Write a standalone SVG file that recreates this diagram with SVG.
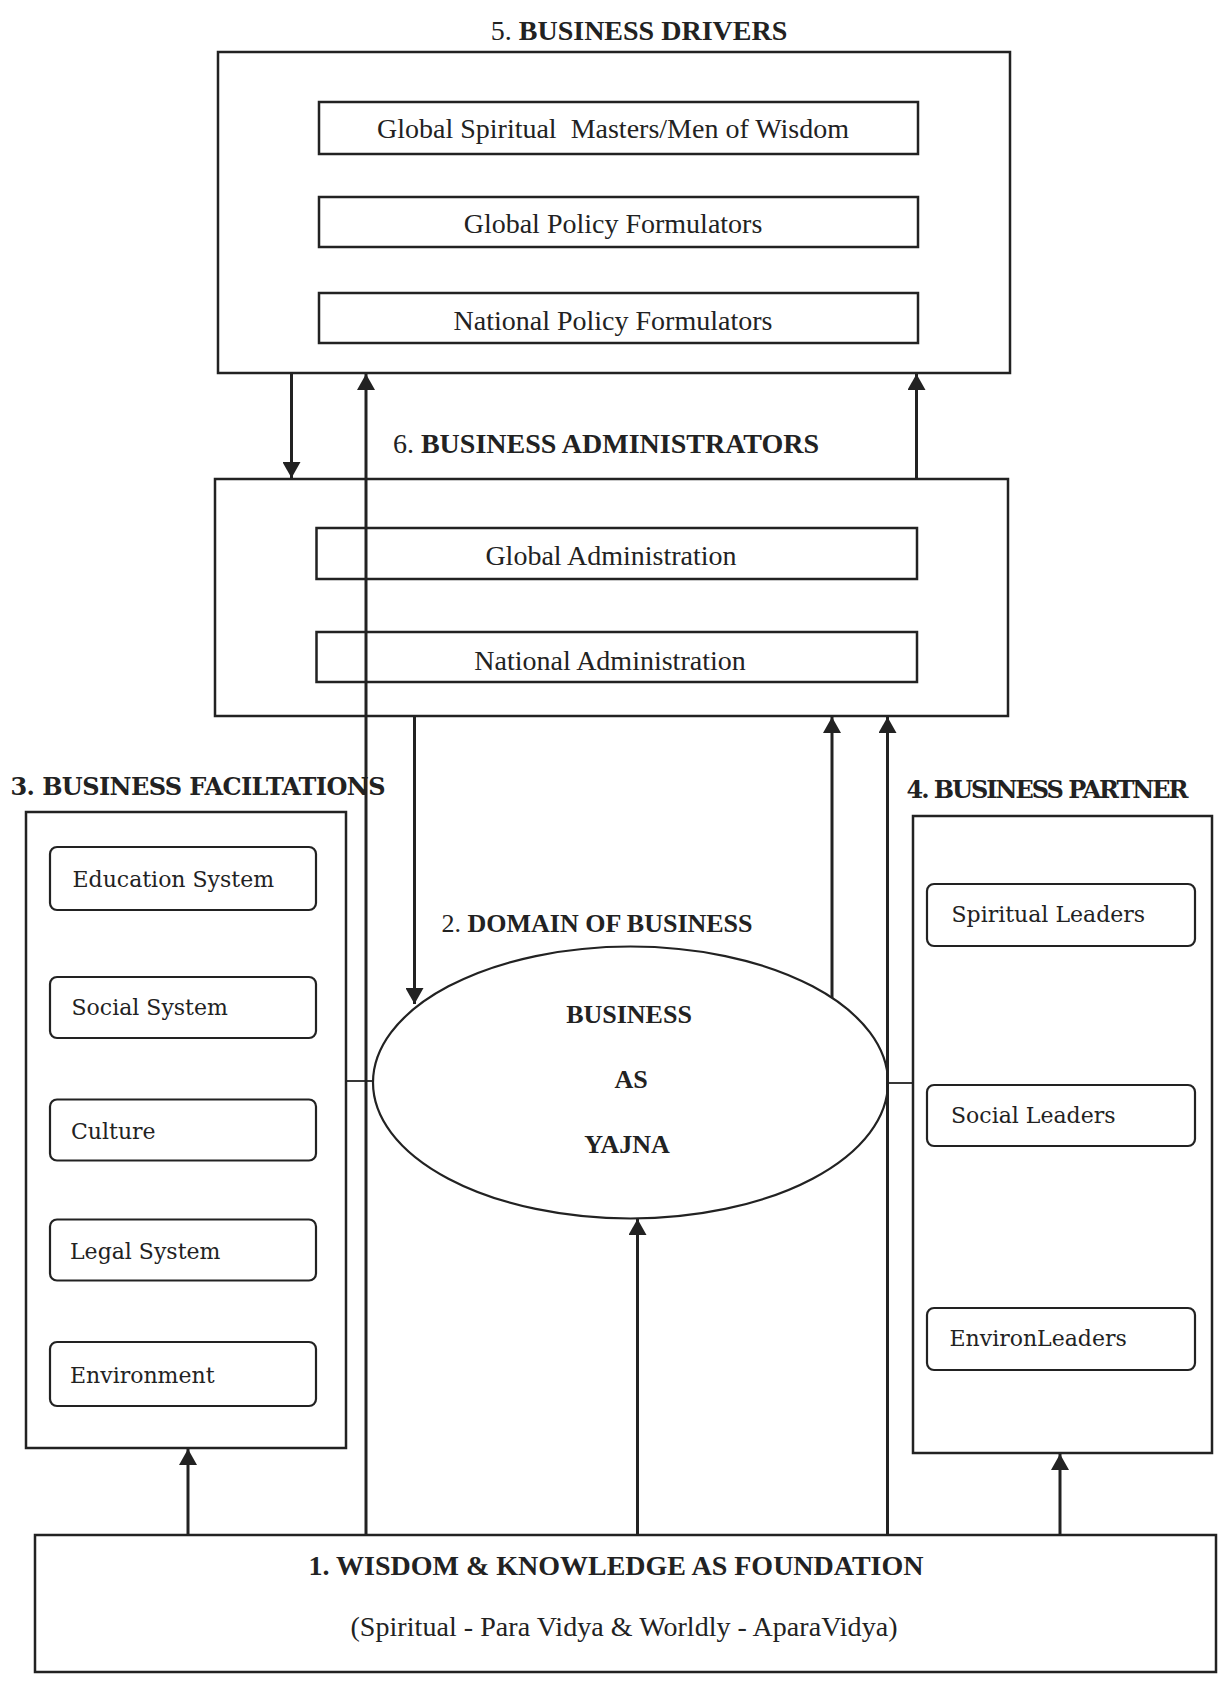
<svg xmlns="http://www.w3.org/2000/svg" width="1218" height="1681" viewBox="0 0 1218 1681">
  <style>
    .box { fill: #fff; stroke: #222; stroke-width: 2.5; }
    .rbox { fill: #fff; stroke: #222; stroke-width: 2.2; }
    .ell { fill: #fff; stroke: #222; stroke-width: 2.2; }
    .times { font-family: "Liberation Serif", "Times New Roman", serif; fill: #222; }
    .title { font-family: "Liberation Serif", "Times New Roman", serif; font-weight: bold; fill: #222; }
    .num { font-weight: normal; }
    .wide { font-family: "DejaVu Serif", "Liberation Serif", serif; fill: #222; }
    .wideb { font-family: "DejaVu Serif", "Liberation Serif", serif; font-weight: bold; fill: #222; }
    .arrow { stroke: #222; stroke-width: 3; fill: none; }
    .link { stroke: #222; stroke-width: 1.8; fill: none; }
  </style>
  <defs>
    <marker id="head" viewBox="0 0 16 18" refX="16" refY="9" markerWidth="16" markerHeight="18" markerUnits="userSpaceOnUse" orient="auto">
      <path d="M0,0 L16,9 L0,18 z" fill="#222"/>
    </marker>
  </defs>

  <rect width="1218" height="1681" fill="#fff"/>

  <!-- 5. Business drivers -->
  <g id="drivers">
    <text class="title" x="639" y="40" font-size="28" text-anchor="middle"><tspan class="num">5.</tspan> BUSINESS DRIVERS</text>
    <rect class="box" x="218" y="52" width="792" height="321"/>
    <rect class="box" x="319" y="102" width="599" height="52"/>
    <text class="times" x="613" y="138" font-size="28" text-anchor="middle" xml:space="preserve">Global Spiritual  Masters/Men of Wisdom</text>
    <rect class="box" x="319" y="197" width="599" height="50"/>
    <text class="times" x="613" y="233" font-size="28" text-anchor="middle">Global Policy Formulators</text>
    <rect class="box" x="319" y="293" width="599" height="50"/>
    <text class="times" x="613" y="330" font-size="28" text-anchor="middle">National Policy Formulators</text>
  </g>

  <!-- 6. Business administrators -->
  <g id="administrators">
    <text class="title" x="606" y="453" font-size="28" text-anchor="middle"><tspan class="num">6.</tspan> BUSINESS ADMINISTRATORS</text>
    <rect class="box" x="215" y="479" width="793" height="237"/>
    <rect class="box" x="316.5" y="528" width="600.5" height="51"/>
    <text class="times" x="611" y="565" font-size="28" text-anchor="middle">Global Administration</text>
    <rect class="box" x="316.5" y="632" width="600.5" height="50"/>
    <text class="times" x="610" y="670" font-size="28" text-anchor="middle">National Administration</text>
  </g>

  <!-- 3. Business facilitations -->
  <g id="facilitations">
    <text class="wideb" x="10.5" y="795" font-size="24" textLength="375">3. BUSINESS FACILTATIONS</text>
    <rect class="box" x="26" y="812" width="320" height="636"/>
    <rect class="rbox" x="50" y="847" width="266" height="63" rx="7"/>
    <text class="wide" x="72.5" y="887" font-size="22">Education System</text>
    <rect class="rbox" x="50" y="977" width="266" height="61" rx="7"/>
    <text class="wide" x="71.5" y="1015" font-size="22">Social System</text>
    <rect class="rbox" x="50" y="1099.5" width="266" height="61" rx="7"/>
    <text class="wide" x="71" y="1139" font-size="22">Culture</text>
    <rect class="rbox" x="50" y="1219.5" width="266" height="61" rx="7"/>
    <text class="wide" x="70" y="1259" font-size="22">Legal System</text>
    <rect class="rbox" x="50" y="1342" width="266" height="64" rx="7"/>
    <text class="wide" x="70" y="1383" font-size="22">Environment</text>
  </g>

  <!-- 4. Business partner -->
  <g id="partner">
    <text class="wideb" x="906.5" y="798" font-size="24" textLength="282">4. BUSINESS PARTNER</text>
    <rect class="box" x="913" y="816" width="299" height="637"/>
    <rect class="rbox" x="927" y="884" width="268" height="62" rx="7"/>
    <text class="wide" x="951.5" y="922" font-size="22">Spiritual Leaders</text>
    <rect class="rbox" x="927" y="1085" width="268" height="61" rx="7"/>
    <text class="wide" x="951" y="1123" font-size="22">Social Leaders</text>
    <rect class="rbox" x="927" y="1308" width="268" height="62" rx="7"/>
    <text class="wide" x="949.5" y="1346" font-size="22">EnvironLeaders</text>
  </g>

  <!-- 2. Domain of business -->
  <g id="domain">
    <text class="title" x="597" y="932" font-size="26" text-anchor="middle"><tspan class="num">2.</tspan> DOMAIN OF BUSINESS</text>
    <ellipse class="ell" cx="630.5" cy="1082.5" rx="257.5" ry="136"/>
    <text class="title" x="629" y="1023" font-size="26" text-anchor="middle">BUSINESS</text>
    <text class="title" x="631" y="1088" font-size="26" text-anchor="middle">AS</text>
    <text class="title" x="627" y="1153" font-size="26" text-anchor="middle">YAJNA</text>
  </g>

  <!-- 1. Wisdom & knowledge as foundation -->
  <g id="foundation">
    <rect class="box" x="35" y="1535" width="1181" height="137"/>
    <text class="title" x="616" y="1575" font-size="28" text-anchor="middle">1. WISDOM &amp; KNOWLEDGE AS FOUNDATION</text>
    <text class="times" x="624" y="1636" font-size="28" text-anchor="middle" textLength="547">(Spiritual - Para Vidya &amp; Worldly - AparaVidya)</text>
  </g>

  <!-- connectors -->
  <g id="connectors">
    <line class="arrow" x1="291.5" y1="373" x2="291.5" y2="478" marker-end="url(#head)"/>
    <line class="arrow" x1="366" y1="1535" x2="366" y2="374" marker-end="url(#head)"/>
    <line class="arrow" x1="916.5" y1="480" x2="916.5" y2="374" marker-end="url(#head)"/>
    <line class="arrow" x1="414.5" y1="716" x2="414.5" y2="1004" marker-end="url(#head)"/>
    <line class="arrow" x1="832" y1="998" x2="832" y2="717" marker-end="url(#head)"/>
    <line class="arrow" x1="887.5" y1="1535" x2="887.5" y2="717" marker-end="url(#head)"/>
    <line class="arrow" x1="637.5" y1="1535" x2="637.5" y2="1219" marker-end="url(#head)"/>
    <line class="arrow" x1="188" y1="1535" x2="188" y2="1449" marker-end="url(#head)"/>
    <line class="arrow" x1="1060" y1="1535" x2="1060" y2="1454" marker-end="url(#head)"/>
    <line class="link" x1="346" y1="1081" x2="373" y2="1081"/>
    <line class="link" x1="888" y1="1083" x2="913" y2="1083"/>
  </g>
</svg>
